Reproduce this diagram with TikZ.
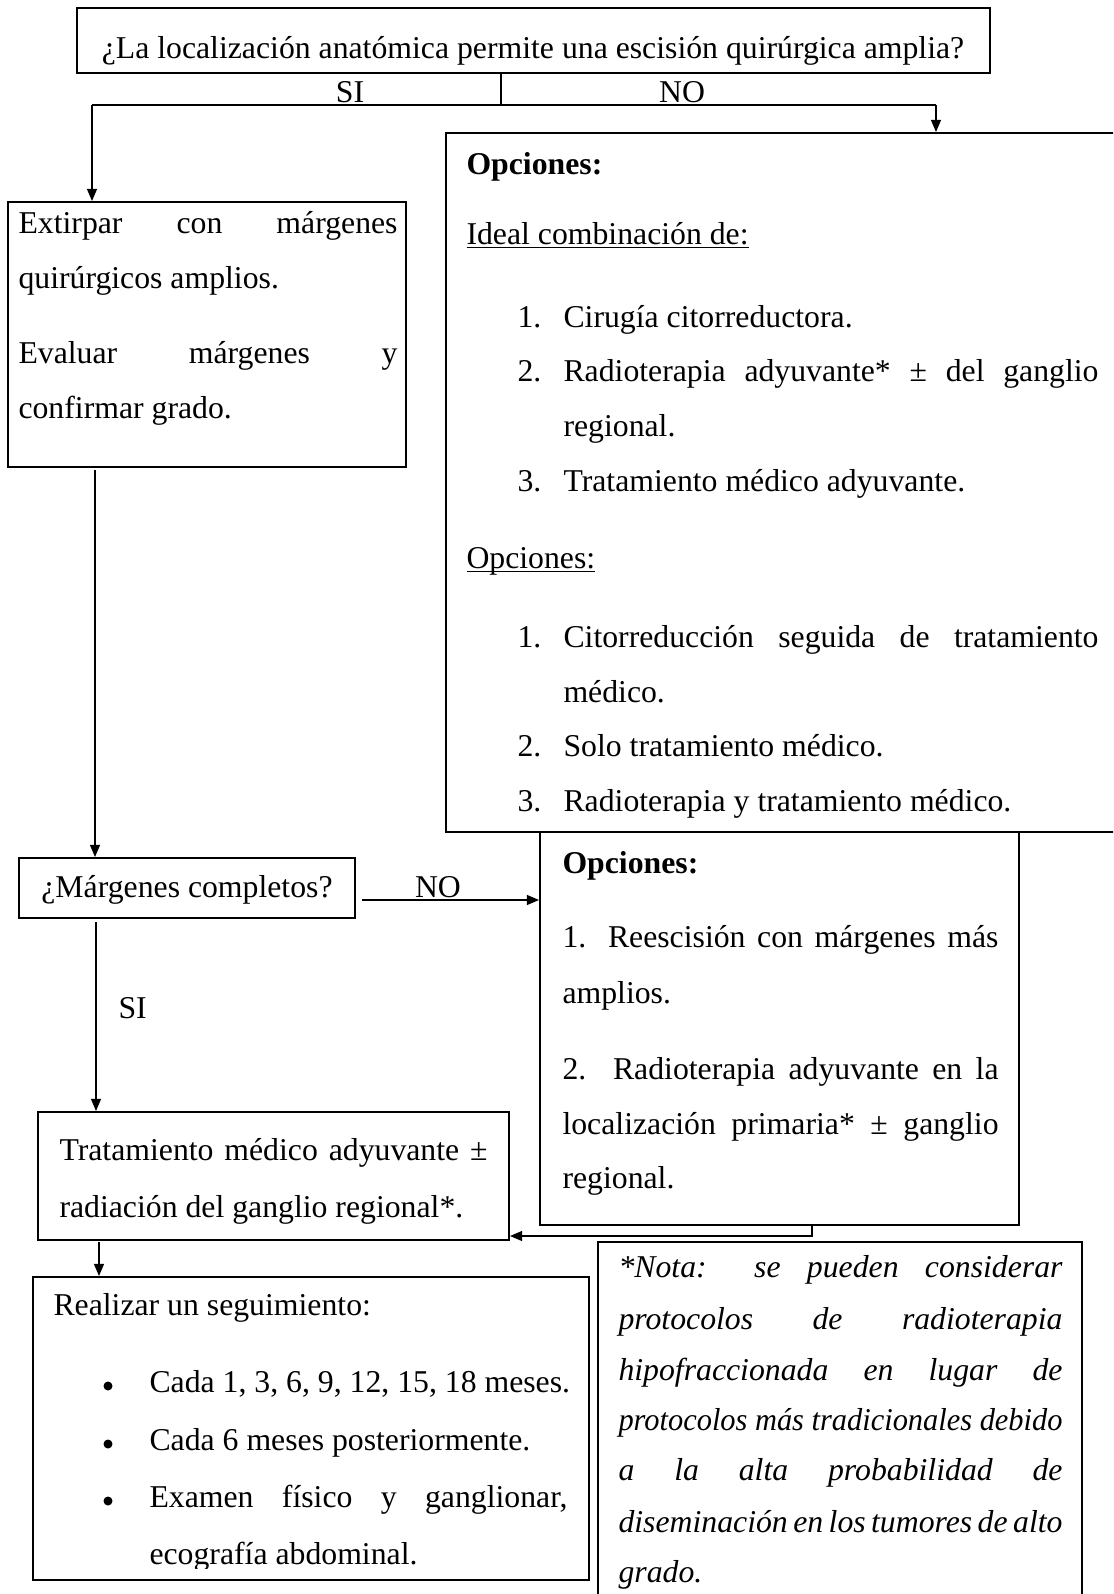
\documentclass[tikz,border=0pt]{standalone}
\usepackage{fontspec}
\usepackage{graphicx}
\setmainfont{Liberation Serif}
\usetikzlibrary{arrows.meta}
\newdimen\pxl \pxl=0.378pt
\newcommand{\jl}[2]{\makebox[#1\pxl][s]{#2}}
\newcommand{\myul}[1]{\setbox0\hbox{#1}\rlap{\rule[-1.6pt]{\wd0}{0.5pt}}\box0}
\begin{document}
\begin{tikzpicture}[x=\pxl,y=-\pxl,
  box/.style={draw, line width=0.75pt, inner sep=0pt},
  arr/.style={line width=0.45pt, -{Triangle[length=4.6pt,width=3.8pt]}},
  ln/.style={line width=0.45pt},
  dot/.style={circle, fill, inner sep=0pt, minimum size=9\pxl},
  tx/.style={inner sep=0pt, anchor=base west, font=\fontsize{12}{14}\selectfont},
  txi/.style={tx, font=\fontsize{12}{14}\selectfont\itshape},
  txc/.style={tx, anchor=base}]
\clip (0,0) rectangle (1113,1594);
\fill[white] (0,0) rectangle (1113,1594);

% boxes
\node[box, minimum width=913\pxl, minimum height=65\pxl] (top) at (533.5,40.5) {};
\node[box, minimum width=398\pxl, minimum height=265\pxl] (ext) at (207,334.5) {};
\node[box, minimum width=684\pxl, minimum height=699\pxl] (big) at (788,482.5) {};
\node[box, minimum width=336\pxl, minimum height=60\pxl] (mar) at (187,888) {};
\node[box, minimum width=479\pxl, minimum height=393\pxl] (opc) at (779.5,1028.5) {};
\node[box, minimum width=471\pxl, minimum height=128\pxl] (trat) at (273.5,1176) {};
\node[box, minimum width=556\pxl, minimum height=303\pxl] (real) at (311,1428.5) {};
\node[box, minimum width=484\pxl, minimum height=398\pxl] (nota) at (840,1441) {};

% connectors
\coordinate (j0) at (501,105);
\coordinate (hl) at (92,105);
\coordinate (hr) at (936,105);
\draw[ln] (j0 |- top.south) -- (j0);
\draw[ln] (hl) -- (hr);
\draw[arr] (hl) -- (hl |- ext.north);
\draw[arr] (hr) -- (hr |- big.north);
\coordinate (c1) at (95,470);
\draw[arr] (c1) -- (c1 |- mar.north);
\coordinate (n1) at (362,900);
\draw[arr] (n1) -- (n1 -| opc.west);
\coordinate (s1c) at (96,922);
\draw[arr] (s1c) -- (s1c |- trat.north);
\coordinate (rc) at (812,1236);
\draw[arr] (rc |- opc.south) -- (rc) -- (rc -| trat.east);
\coordinate (dc) at (99,1242);
\draw[arr] (dc) -- (dc |- real.north);

% top
\node[txc] (t0) at (533,59) {¿La localización anatómica permite una escisión quirúrgica amplia?};
\node[txc] (lsi) at (350,102) {SI};
\node[txc] (lno) at (682,102) {NO};

% extirpar
\node[tx] (e1) at (18,233) {\jl{379}{Extirpar con márgenes}};
\node[tx] (e2) at (18,288) {quirúrgicos amplios.};
\node[tx] (e3) at (18,363) {\jl{379}{Evaluar márgenes y}};
\node[tx] (e4) at (18,418) {confirmar grado.};

% big options
\node[tx] (b0) at (466,174) {\bfseries Opciones:};
\node[tx] (b1) at (466,244) {\myul{Ideal combinación de:}};
\node[tx] (b2n) at (517,327) {1.};
\node[tx] (b2) at (563,327) {Cirugía citorreductora.};
\node[tx] (b3n) at (517,381) {2.};
\node[tx] (b3) at (563,381) {\jl{535}{Radioterapia adyuvante* ± del ganglio}};
\node[tx] (b4) at (563,436) {regional.};
\node[tx] (b5n) at (517,491) {3.};
\node[tx] (b5) at (563,491) {Tratamiento médico adyuvante.};
\node[tx] (b6) at (466,568) {\myul{Opciones:}};
\node[tx] (b7n) at (517,647) {1.};
\node[tx] (b7) at (563,647) {\jl{535}{Citorreducción seguida de tratamiento}};
\node[tx] (b8) at (563,702) {médico.};
\node[tx] (b9n) at (517,756) {2.};
\node[tx] (b9) at (563,756) {Solo tratamiento médico.};
\node[tx] (b10n) at (517,811) {3.};
\node[tx] (b10) at (563,811) {Radioterapia y tratamiento médico.};

% margenes
\node[txc] (m0) at (187,897) {¿Márgenes completos?};
\node[txc] (lno2) at (438,897) {NO};
\node[tx] (lsi2) at (118,1018) {SI};

% options 2
\node[tx] (o0) at (562,873) {\bfseries Opciones:};
\node[tx] (o1) at (562,947) {\jl{436}{1. Reescisión con márgenes más}};
\node[tx] (o2) at (562,1003) {amplios.};
\node[tx] (o3) at (562,1079) {\jl{436}{2. Radioterapia adyuvante en la}};
\node[tx] (o4) at (562,1134) {\jl{436}{localización primaria* ± ganglio}};
\node[tx] (o5) at (562,1188) {regional.};

% tratamiento
\node[tx] (r1) at (59,1160) {\jl{428}{Tratamiento médico adyuvante ±}};
\node[tx] (r2) at (59,1217) {radiación del ganglio regional*.};

% realizar
\node[tx] (s0) at (53,1315) {Realizar un seguimiento:};
\node[dot] (s1b) at (108,1386) {};
\node[tx] (s1) at (149,1392) {Cada 1, 3, 6, 9, 12, 15, 18 meses.};
\node[dot] (s2b) at (108,1444) {};
\node[tx] (s2) at (149,1450) {Cada 6 meses posteriormente.};
\node[dot] (s3b) at (108,1501) {};
\node[tx] (s3) at (149,1507) {\jl{418}{Examen físico y ganglionar,}};
\begin{scope}
\clip (140,1530) rectangle (580,1568);
\node[tx] (s4) at (149,1564) {ecografía abdominal.};
\end{scope}

% nota
\node[txi] (q1) at (618,1277) {\jl{444}{*Nota: se pueden considerar}};
\node[txi] (q2) at (618,1329) {\jl{444}{protocolos de radioterapia}};
\node[txi] (q3) at (618,1380) {\jl{444}{hipofraccionada en lugar de}};
\node[txi] (q4) at (618,1430) {\resizebox{444\pxl}{\height}{protocolos más tradicionales debido}};
\node[txi] (q5) at (618,1480) {\jl{444}{a la alta probabilidad de}};
\node[txi] (q6) at (618,1532) {\jl{444}{diseminación en los tumores de alto}};
\node[txi] (q7) at (618,1582) {grado.};
\end{tikzpicture}
\end{document}
